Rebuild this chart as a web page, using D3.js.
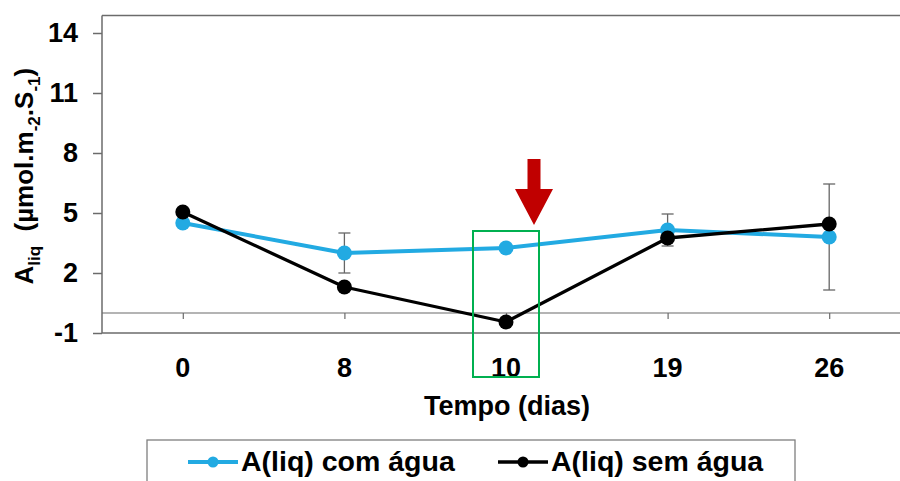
<!DOCTYPE html>
<html>
<head>
<meta charset="utf-8">
<script src="https://cdn.jsdelivr.net/npm/d3@7"></script>
<style>
  body { margin: 0; background: #fff; }
  svg { display: block; font-family: "Liberation Sans", Arial, sans-serif; font-weight: bold; }
</style>
</head>
<body>
<div id="chart"></div>
<script>
// data
var days = ["0", "8", "10", "19", "26"];
var comAgua = [4.5, 3.0, 3.25, 4.15, 3.8];
var comAguaErr = [0, 1.0, 0, 0.8, 2.65];
var semAgua = [5.05, 1.3, -0.45, 3.75, 4.45];
var yTicks = [-1, 2, 5, 8, 11, 14];
var seriesNames = ["A(liq) com água", "A(liq) sem água"];

var svgWidth = 900;
var svgHeight = 481;
var blue = "#22aae2";
var axisGray = "#6b6b6b";

var svg = d3.select("#chart")
  .append("svg")
  .attr("width", svgWidth)
  .attr("height", svgHeight);

var xScale = d3.scalePoint()
  .domain(days)
  .range([102, 910])
  .padding(0.5);

var yScale = d3.scaleLinear()
  .domain([-1, 14])
  .range([333, 33]);

var plotLeft = 102, plotRight = 910;
var plotTop = yScale(14.88), plotBottom = yScale(-1);

// frame lines (top and bottom)
svg.append("line")
  .attr("x1", plotLeft).attr("x2", plotRight)
  .attr("y1", plotTop).attr("y2", plotTop)
  .attr("stroke", axisGray).attr("stroke-width", 1.5);
svg.append("line")
  .attr("x1", plotLeft).attr("x2", plotRight)
  .attr("y1", plotBottom).attr("y2", plotBottom)
  .attr("stroke", axisGray).attr("stroke-width", 1.5);

// y axis
var yAxis = svg.append("g")
  .attr("transform", "translate(" + plotLeft + ",0)")
  .call(d3.axisLeft(yScale).tickValues(yTicks).tickSize(9).tickPadding(15)
    .tickSizeOuter(0).tickFormat(d => String(d)));
yAxis.select(".domain").remove();
yAxis.append("line")
  .attr("x1", 0).attr("x2", 0)
  .attr("y1", plotTop).attr("y2", plotBottom)
  .attr("stroke", axisGray).attr("stroke-width", 1.5);
yAxis.selectAll(".tick line").attr("stroke", axisGray).attr("stroke-width", 1.5);
yAxis.selectAll(".tick text")
  .attr("fill", "#000")
  .style("font-size", "27px")
  .style("font-weight", "bold");

// x axis on the zero line
var xAxis = svg.append("g")
  .attr("transform", "translate(0," + yScale(0) + ")")
  .call(d3.axisBottom(xScale).tickSize(6).tickSizeOuter(0).tickFormat(""));
xAxis.select(".domain").remove();
xAxis.append("line")
  .attr("x1", plotLeft).attr("x2", plotRight)
  .attr("y1", 0).attr("y2", 0)
  .attr("stroke", axisGray).attr("stroke-width", 1.2);
xAxis.selectAll(".tick line").attr("stroke", axisGray).attr("stroke-width", 1.2);

// x labels sit below the frame
svg.selectAll(".xlab")
  .data(days)
  .enter()
  .append("text")
  .attr("class", "xlab")
  .attr("x", d => xScale(d))
  .attr("y", plotBottom + 44)
  .attr("text-anchor", "middle")
  .style("font-size", "27px")
  .text(d => d);

// axis titles
svg.append("text")
  .attr("x", (plotLeft + plotRight) / 2 + 1)
  .attr("y", 415)
  .attr("text-anchor", "middle")
  .style("font-size", "27px")
  .text("Tempo (dias)");

var yTitle = svg.append("text")
  .attr("transform", "translate(33," + ((plotTop + plotBottom) / 2 + 2) + ") rotate(-90)")
  .attr("text-anchor", "middle")
  .style("font-size", "26px");
yTitle.append("tspan").text("A");
yTitle.append("tspan").attr("dy", 7).style("font-size", "17px").text("liq");
yTitle.append("tspan").attr("dy", -7).text("\u00a0 (µmol.m");
yTitle.append("tspan").attr("dy", 7).style("font-size", "17px").text("-2");
yTitle.append("tspan").attr("dy", -7).text(".S");
yTitle.append("tspan").attr("dy", 7).style("font-size", "17px").text("-1");
yTitle.append("tspan").attr("dy", -7).text(")");

// error bars (com água)
var errG = svg.append("g");
days.forEach(function(d, i) {
  if (!comAguaErr[i]) return;
  var cx = xScale(d);
  var y1 = yScale(comAgua[i] + comAguaErr[i]);
  var y2 = yScale(comAgua[i] - comAguaErr[i]);
  errG.append("line").attr("x1", cx).attr("x2", cx).attr("y1", y1).attr("y2", y2);
  errG.append("line").attr("x1", cx - 6).attr("x2", cx + 6).attr("y1", y1).attr("y2", y1);
  errG.append("line").attr("x1", cx - 6).attr("x2", cx + 6).attr("y1", y2).attr("y2", y2);
});
errG.selectAll("line").attr("stroke", "#666").attr("stroke-width", 1.3);

// lines + markers
var createLine = d3.line()
  .x((v, i) => xScale(days[i]))
  .y(v => yScale(v));

function drawSeries(values, color, width) {
  svg.append("path")
    .attr("d", createLine(values))
    .attr("fill", "none")
    .attr("stroke", color)
    .attr("stroke-width", width)
    .attr("stroke-linejoin", "round");
  svg.selectAll(null)
    .data(values)
    .enter()
    .append("circle")
    .attr("cx", (v, i) => xScale(days[i]))
    .attr("cy", v => yScale(v))
    .attr("r", 7.5)
    .attr("fill", color);
}
drawSeries(comAgua, blue, 4);
drawSeries(semAgua, "#000", 3.3);

// annotation: green box around day 10 and red arrow
var x10 = xScale("10");
svg.append("rect")
  .attr("x", x10 - 33)
  .attr("y", yScale(4.1))
  .attr("width", 66)
  .attr("height", yScale(-3.2) - yScale(4.1))
  .attr("fill", "none")
  .attr("stroke", "#00b050")
  .attr("stroke-width", 2);

var ax = x10 + 28, tipY = yScale(4.4);
svg.append("path")
  .attr("d", d3.line()([
    [ax - 6.5, tipY - 66], [ax + 6.5, tipY - 66], [ax + 6.5, tipY - 36],
    [ax + 19, tipY - 36], [ax, tipY], [ax - 19, tipY - 36], [ax - 6.5, tipY - 36]
  ]) + "Z")
  .attr("fill", "#c00000");

// legend
var legend = svg.append("g");
legend.append("rect")
  .attr("x", 147).attr("y", 440)
  .attr("width", 648).attr("height", 60)
  .attr("fill", "#fff")
  .attr("stroke", "#7f7f7f")
  .attr("stroke-width", 1.3);

var legendX = [188, 498];
var legendColors = [blue, "#000"];
seriesNames.forEach(function(name, i) {
  var lx = legendX[i];
  legend.append("line")
    .attr("x1", lx).attr("x2", lx + 50)
    .attr("y1", 462).attr("y2", 462)
    .attr("stroke", legendColors[i])
    .attr("stroke-width", i === 0 ? 4 : 3.3);
  legend.append("circle")
    .attr("cx", lx + 25).attr("cy", 462).attr("r", 5.5)
    .attr("fill", legendColors[i]);
  legend.append("text")
    .attr("x", lx + 53).attr("y", 471)
    .style("font-size", "28.5px")
    .text(name);
});
</script>
</body>
</html>
